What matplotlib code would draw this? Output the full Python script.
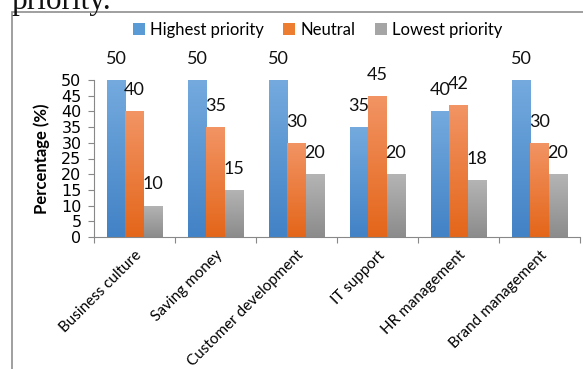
import matplotlib
matplotlib.use("Agg")
import matplotlib.pyplot as plt
import numpy as np
from matplotlib.patches import Rectangle
from matplotlib.colors import LinearSegmentedColormap

categories = ["Business culture", "Saving money", "Customer development",
              "IT support", "HR management", "Brand management"]
series_names = ["Highest priority", "Neutral", "Lowest priority"]
highest = [50, 50, 50, 35, 40, 50]
neutral = [40, 35, 30, 45, 42, 30]
lowest = [10, 15, 20, 20, 18, 20]
yticks = list(range(0, 55, 5))

plt.rcParams['font.family'] = ['Lato', 'DejaVu Sans']

W, H = 583, 369
fig = plt.figure(figsize=(W / 100, H / 100), dpi=100)

# document text clipped at top
fig.text(11 / W, 1 - 9 / H, "priority.", family="Liberation Serif", fontsize=22.5,
         ha="left", va="baseline", color="#111111")
# chart frame
fig.add_artist(Rectangle((11.5 / W, -0.1), 1.0, 1.1 - 12.5 / H,
                         transform=fig.transFigure, fill=False, edgecolor="#8f8f8f", lw=1.2))

left, right = 94 / W, 580 / W
bottom, top = 1 - 237 / H, 1 - 80 / H
ax = fig.add_axes([left, bottom, right - left, top - bottom])

n = len(categories)
x = np.arange(n)
bw = 0.228
grads = [("#74aade", "#4282c6"), ("#f29464", "#e4661a"), ("#b4b4b4", "#8c8c8c")]
flat = ["#5b9bd5", "#ed7d31", "#a5a5a5"]
data = [highest, neutral, lowest]

for i, (vals, name) in enumerate(zip(data, series_names)):
    bars = ax.bar(x + (i - 1) * bw, vals, width=bw, color=flat[i], label=name, zorder=2)
    cmap = LinearSegmentedColormap.from_list("g%d" % i, [grads[i][1], grads[i][0]])
    for b, v in zip(bars, vals):
        bx, by = b.get_x(), b.get_y()
        bwid, bh = b.get_width(), b.get_height()
        img = ax.imshow(np.linspace(0, 1, 64).reshape(-1, 1), cmap=cmap, aspect="auto",
                        extent=[bx, bx + bwid, by, by + bh], origin="lower", zorder=2.5)
        img.set_clip_path(b)
        ax.annotate(str(v), (bx + bwid / 2, by + bh), xytext=(0, 9.5), textcoords="offset points",
                    ha="center", va="bottom", fontsize=13, color="#111111",
                    annotation_clip=False, zorder=4)

ax.set_xlim(-0.5, n - 0.5)
ax.set_ylim(0, 50)
ax.set_yticks(yticks)
ax.set_yticklabels([str(t) for t in yticks], fontsize=11.5, family="DejaVu Sans")
ax.tick_params(axis="y", length=4, width=0.8, color="#888888", pad=5)
ax.set_xticks(np.arange(-0.5, n, 1.0))
ax.set_xticklabels([])
ax.tick_params(axis="x", length=4, width=0.8, color="#888888")
ax.set_xticks(x, minor=True)
ax.set_xticklabels(categories, minor=True, rotation=45, ha="right", rotation_mode="anchor",
                   fontsize=11)
ax.tick_params(axis="x", which="minor", length=0, pad=8)

for s in ["top", "right"]:
    ax.spines[s].set_visible(False)
ax.spines["left"].set_color("#888888")
ax.spines["bottom"].set_color("#888888")
ax.set_ylabel("Percentage (%)", fontsize=12, fontweight="bold", labelpad=8)

ax.legend(loc="center", bbox_to_anchor=(0.46, (1 - 30 / H - bottom) / (top - bottom)),
          ncol=3, frameon=False, fontsize=12, handlelength=0.7, handleheight=0.7,
          handletextpad=0.3, columnspacing=1.2)

fig.savefig("out.png", dpi=100)
